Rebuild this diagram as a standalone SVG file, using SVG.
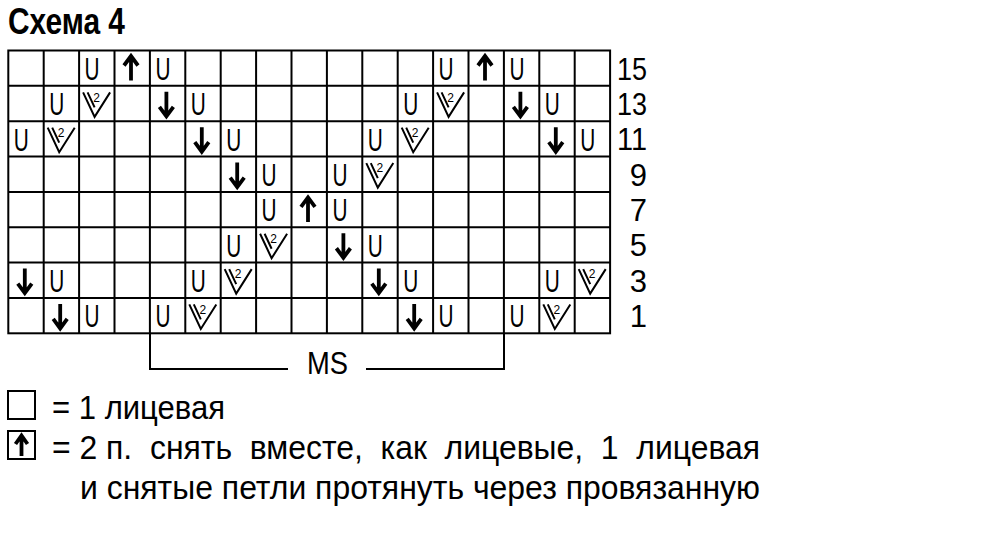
<svg xmlns="http://www.w3.org/2000/svg" xmlns:xlink="http://www.w3.org/1999/xlink" width="1000" height="533" viewBox="0 0 1000 533">
<style>
  .t { font-family: "Liberation Sans", Arial, sans-serif; fill: #000; }
  .title { font-family: "Liberation Sans", Arial, sans-serif; font-weight: bold; font-size: 36px; fill: #000; }
  .u { font-family: "Liberation Sans", Arial, sans-serif; font-size: 32px; fill: #000; }
  .two { font-family: "Liberation Sans", Arial, sans-serif; font-size: 12px; fill: #000; text-anchor: middle; }
  .lbl { font-family: "Liberation Sans", Arial, sans-serif; font-size: 31px; fill: #000; text-anchor: end; }
  .grid { stroke: #000; stroke-width: 2; fill: none; }
  .arr { stroke: #000; stroke-width: 3.8; fill: none; stroke-linejoin: miter; stroke-linecap: butt; }
  .vv { stroke: #000; stroke-width: 2; fill: none; stroke-linejoin: miter; }
  .line { stroke: #000; stroke-width: 2; fill: none; }
</style>
<defs>
  <path id="dn" class="arr" d="M16.5,6 V30.5 M9.5,21 L16.5,30.5 L23.5,21"/>
  <path id="up" class="arr" d="M16.5,30 V5.5 M9.5,15 L16.5,5.5 L23.5,15"/>
  <path id="v" class="vv" d="M4,6.5 L15.5,31 L31,6.5 M8.5,6.5 L15.5,21.5"/>
</defs>
<rect width="1000" height="533" fill="#fff"/>

<g id="title"><text class="title" x="8" y="34" textLength="117" lengthAdjust="spacingAndGlyphs">Схема 4</text></g>

<g id="grid" class="grid">
  <rect x="8.3" y="50.5" width="601.8" height="282.8"/>
  <path d="M43.7,50.5V333.3M79.1,50.5V333.3M114.5,50.5V333.3M149.9,50.5V333.3M185.3,50.5V333.3M220.7,50.5V333.3M256.1,50.5V333.3M291.5,50.5V333.3M326.9,50.5V333.3M362.3,50.5V333.3M397.7,50.5V333.3M433.1,50.5V333.3M468.5,50.5V333.3M503.9,50.5V333.3M539.3,50.5V333.3M574.7,50.5V333.3"/>
  <path d="M8.3,85.85H610.1M8.3,121.2H610.1M8.3,156.55H610.1M8.3,191.9H610.1M8.3,227.25H610.1M8.3,262.6H610.1M8.3,297.95H610.1"/>
</g>

<g id="row15">
  <text class="u" x="84.6" y="80" textLength="15" lengthAdjust="spacingAndGlyphs">U</text>
  <use href="#up" x="114.5" y="50.5"/>
  <text class="u" x="155.4" y="80" textLength="15" lengthAdjust="spacingAndGlyphs">U</text>
  <text class="u" x="438.6" y="80" textLength="15" lengthAdjust="spacingAndGlyphs">U</text>
  <use href="#up" x="468.5" y="50.5"/>
  <text class="u" x="509.4" y="80" textLength="15" lengthAdjust="spacingAndGlyphs">U</text>
</g>
<g id="row13">
  <text class="u" x="49.2" y="115.35" textLength="15" lengthAdjust="spacingAndGlyphs">U</text>
  <use href="#v" x="79.1" y="85.85"/><text class="two" x="96.6" y="101.5">2</text>
  <use href="#dn" x="149.9" y="85.85"/>
  <text class="u" x="190.8" y="115.35" textLength="15" lengthAdjust="spacingAndGlyphs">U</text>
  <text class="u" x="403.2" y="115.35" textLength="15" lengthAdjust="spacingAndGlyphs">U</text>
  <use href="#v" x="433.1" y="85.85"/><text class="two" x="450.6" y="101.5">2</text>
  <use href="#dn" x="503.9" y="85.85"/>
  <text class="u" x="544.8" y="115.35" textLength="15" lengthAdjust="spacingAndGlyphs">U</text>
</g>
<g id="row11">
  <text class="u" x="13.8" y="150.7" textLength="15" lengthAdjust="spacingAndGlyphs">U</text>
  <use href="#v" x="43.7" y="121.2"/><text class="two" x="61.2" y="136.9">2</text>
  <use href="#dn" x="185.3" y="121.2"/>
  <text class="u" x="226.2" y="150.7" textLength="15" lengthAdjust="spacingAndGlyphs">U</text>
  <text class="u" x="367.8" y="150.7" textLength="15" lengthAdjust="spacingAndGlyphs">U</text>
  <use href="#v" x="397.7" y="121.2"/><text class="two" x="415.2" y="136.9">2</text>
  <use href="#dn" x="539.3" y="121.2"/>
  <text class="u" x="580.2" y="150.7" textLength="15" lengthAdjust="spacingAndGlyphs">U</text>
</g>
<g id="row9">
  <use href="#dn" x="220.7" y="156.55"/>
  <text class="u" x="261.6" y="186.05" textLength="15" lengthAdjust="spacingAndGlyphs">U</text>
  <text class="u" x="332.4" y="186.05" textLength="15" lengthAdjust="spacingAndGlyphs">U</text>
  <use href="#v" x="362.3" y="156.55"/><text class="two" x="379.8" y="172.2">2</text>
</g>
<g id="row7">
  <text class="u" x="261.6" y="221.4" textLength="15" lengthAdjust="spacingAndGlyphs">U</text>
  <use href="#up" x="291.5" y="191.9"/>
  <text class="u" x="332.4" y="221.4" textLength="15" lengthAdjust="spacingAndGlyphs">U</text>
</g>
<g id="row5">
  <text class="u" x="226.2" y="256.75" textLength="15" lengthAdjust="spacingAndGlyphs">U</text>
  <use href="#v" x="256.1" y="227.25"/><text class="two" x="273.6" y="242.9">2</text>
  <use href="#dn" x="326.9" y="227.25"/>
  <text class="u" x="367.8" y="256.75" textLength="15" lengthAdjust="spacingAndGlyphs">U</text>
</g>
<g id="row3">
  <use href="#dn" x="8.3" y="262.6"/>
  <text class="u" x="49.2" y="292.1" textLength="15" lengthAdjust="spacingAndGlyphs">U</text>
  <text class="u" x="190.8" y="292.1" textLength="15" lengthAdjust="spacingAndGlyphs">U</text>
  <use href="#v" x="220.7" y="262.6"/><text class="two" x="238.2" y="278.25">2</text>
  <use href="#dn" x="362.3" y="262.6"/>
  <text class="u" x="403.2" y="292.1" textLength="15" lengthAdjust="spacingAndGlyphs">U</text>
  <text class="u" x="544.8" y="292.1" textLength="15" lengthAdjust="spacingAndGlyphs">U</text>
  <use href="#v" x="574.7" y="262.6"/><text class="two" x="592.2" y="278.25">2</text>
</g>
<g id="row1">
  <use href="#dn" x="43.7" y="297.95"/>
  <text class="u" x="84.6" y="327.45" textLength="15" lengthAdjust="spacingAndGlyphs">U</text>
  <text class="u" x="155.4" y="327.45" textLength="15" lengthAdjust="spacingAndGlyphs">U</text>
  <use href="#v" x="185.3" y="297.95"/><text class="two" x="202.8" y="313.6">2</text>
  <use href="#dn" x="397.7" y="297.95"/>
  <text class="u" x="438.6" y="327.45" textLength="15" lengthAdjust="spacingAndGlyphs">U</text>
  <text class="u" x="509.4" y="327.45" textLength="15" lengthAdjust="spacingAndGlyphs">U</text>
  <use href="#v" x="539.3" y="297.95"/><text class="two" x="556.8" y="313.6">2</text>
</g>

<g id="row-labels">
  <text class="lbl" x="647" y="79.5" textLength="30" lengthAdjust="spacingAndGlyphs">15</text>
  <text class="lbl" x="647" y="114.85" textLength="30" lengthAdjust="spacingAndGlyphs">13</text>
  <text class="lbl" x="647" y="150.2" textLength="30" lengthAdjust="spacingAndGlyphs">11</text>
  <text class="lbl" x="647" y="185.55">9</text>
  <text class="lbl" x="647" y="220.9">7</text>
  <text class="lbl" x="647" y="256.25">5</text>
  <text class="lbl" x="647" y="291.6">3</text>
  <text class="lbl" x="647" y="326.95">1</text>
</g>

<g id="connectors">
  <path class="line" d="M150,333 V369 H288 M366,369 H504 V333"/>
</g>
<g id="ms"><text class="t" x="327.5" y="374" font-size="32" text-anchor="middle" textLength="41" lengthAdjust="spacingAndGlyphs">MS</text></g>

<g id="legend1">
  <rect class="line" x="8" y="391" width="27" height="28"/>
  <text class="t" x="52" y="419" font-size="33" textLength="173" lengthAdjust="spacingAndGlyphs">= 1 лицевая</text>
</g>
<g id="legend2">
  <rect class="line" x="8" y="431" width="27" height="28"/>
  <path class="arr" d="M21.5,456 V435.5 M15.5,444 L21.5,435.5 L27.5,444"/>
  <text class="t" x="52" y="459" font-size="33" xml:space="preserve" textLength="708" lengthAdjust="spacingAndGlyphs">= 2 п.  снять  вместе,  как  лицевые,  1  лицевая</text>
  <text class="t" x="80" y="499" font-size="33" textLength="680" lengthAdjust="spacingAndGlyphs">и снятые петли протянуть через провязанную</text>
</g>
</svg>
